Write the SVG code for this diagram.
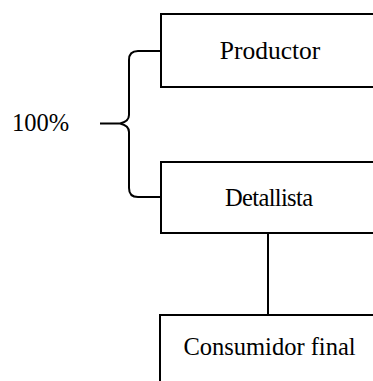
<svg xmlns="http://www.w3.org/2000/svg" width="373" height="381" viewBox="0 0 373 381">
  <style>
    .box { fill: #ffffff; stroke: #000000; stroke-width: 2; }
    .line { fill: none; stroke: #000000; stroke-width: 2; }
    .label { font-family: "Liberation Serif", "Times New Roman", serif; font-size: 24.5px; fill: #000000; }
  </style>
  <rect width="373" height="381" fill="#ffffff"/>

  <g id="connectors">
    <!-- brace grouping the two upper levels -->
    <path class="line" d="M161,51 L138,51 Q129,51 129,60 L129,115 Q129,121.5 120,123.5 L100,123.5 M120,123.5 Q129,125.5 129,132 L129,188 Q129,197 138,197 L161,197"/>
    <!-- retailer to final consumer -->
    <line class="line" x1="268" y1="233" x2="268" y2="315"/>
  </g>

  <g id="productor">
    <rect class="box" x="161" y="14" width="217" height="73"/>
    <text class="label" x="270" y="59" text-anchor="middle" style="font-size:25.5px">Productor</text>
  </g>

  <g id="detallista">
    <rect class="box" x="161" y="162" width="217" height="71"/>
    <text class="label" x="269" y="206" text-anchor="middle" textLength="88" lengthAdjust="spacing">Detallista</text>
  </g>

  <g id="consumidor">
    <rect class="box" x="160" y="315" width="218" height="80"/>
    <text class="label" x="269.5" y="355" text-anchor="middle">Consumidor final</text>
  </g>

  <g id="porcentaje">
    <text class="label" x="12" y="131">100%</text>
  </g>
</svg>
